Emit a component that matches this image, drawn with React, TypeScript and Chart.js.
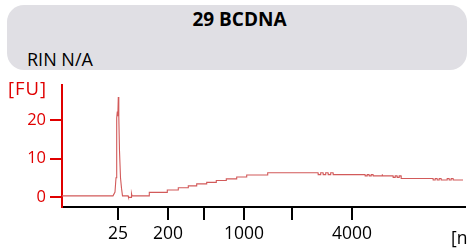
import React, { useEffect, useRef } from "react";
import { Chart, registerables } from "chart.js";

Chart.register(...registerables);

const sampleTitle = "29 BCDNA";
const rinText = "RIN N/A";
const yUnit = "[FU]";
const xUnit = "[nt]";

// migration time (s) and fluorescence (FU) of the electropherogram trace
const migrationTime = [
  19.0, 24.1, 24.3, 24.4, 24.47, 24.53, 24.58, 24.63, 24.68, 24.75, 24.85, 24.95, 25.05,
  25.6, 25.65, 25.9, 25.95, 26.0, 27.7, 27.73, 29.5, 29.53, 30.6, 30.63, 31.6, 31.63,
  32.45, 32.47, 33.45, 33.47, 34.4, 34.43, 35.4, 35.43, 36.45, 36.47, 37.45, 37.47,
  39.55, 39.57,
  44.6, 44.62, 44.85, 44.87, 45.1, 45.12, 45.35, 45.37, 45.6, 45.62, 45.85, 45.87, 46.1, 46.12,
  49.3, 49.32, 49.5, 49.52, 49.7, 49.72, 49.9, 49.92, 50.1, 50.12, 51.0, 51.02, 51.05,
  52.1, 52.12, 52.3, 52.32, 52.5, 52.52, 52.7, 52.72, 52.9, 52.92,
  56.1, 56.12, 56.3, 56.32, 56.5, 56.52, 56.7, 56.72, 56.9, 56.92, 57.5, 57.52, 57.7, 57.72,
  57.9, 57.92, 58.1, 58.12, 59.1,
];
const fluorescence = [
  0.3, 0.3, 1.3, 5.0, 20.5, 22.2, 21.0, 26.0, 21.0, 12.0, 5.0, 2.3, 0.3,
  0.3, -0.1, -0.1, 0.9, 0.3, 0.3, 1.2, 1.2, 1.8, 1.8, 2.4, 2.4, 2.9,
  2.9, 3.4, 3.4, 3.8, 3.8, 4.3, 4.3, 4.7, 4.7, 5.2, 5.2, 5.7,
  5.7, 6.3,
  6.3, 5.8, 5.8, 6.3, 6.3, 5.8, 5.8, 6.3, 6.3, 5.8, 5.8, 6.3, 6.3, 5.8,
  5.8, 5.5, 5.5, 5.8, 5.8, 5.5, 5.5, 5.8, 5.8, 5.5, 5.5, 5.9, 5.5,
  5.5, 5.1, 5.1, 5.5, 5.5, 5.1, 5.1, 5.5, 5.5, 4.8,
  4.8, 4.4, 4.4, 4.8, 4.8, 4.4, 4.4, 4.8, 4.8, 4.4, 4.4, 4.8, 4.8, 4.4,
  4.4, 4.8, 4.8, 4.4, 4.4,
];

// ladder positions (migration time) and their size labels
const ladderTime = [24.6, 29.6, 33.2, 37.2, 42.0, 48.0];
const ladderLabels = ["25", "200", "", "1000", "", "4000"];

const yTicks = [0, 10, 20];

const RED = "#e00000";
const FONT = "'Open Sans', 'Noto Sans', sans-serif";

export default function App() {
  const canvasRef = useRef<HTMLCanvasElement | null>(null);

  useEffect(() => {
    const canvas = canvasRef.current;
    if (!canvas) return;
    const points = migrationTime.map((t, i) => ({ x: t, y: fluorescence[i] }));
    const chart = new Chart(canvas, {
      type: "line",
      data: {
        datasets: [
          {
            data: points,
            borderColor: "#d25a5a",
            borderWidth: 1.1,
            pointRadius: 0,
            tension: 0,
            fill: false,
          },
        ],
      },
      options: {
        animation: false,
        responsive: false,
        maintainAspectRatio: false,
        events: [],
        layout: { padding: { top: 85, right: 2, left: 0, bottom: 0 } },
        plugins: { legend: { display: false }, tooltip: { enabled: false } },
        scales: {
          x: {
            type: "linear",
            min: 19,
            max: 59.3,
            afterFit: (scale: any) => {
              scale.height = 41;
            },
            afterBuildTicks: (scale: any) => {
              scale.ticks = ladderTime.map((v) => ({ value: v }));
            },
            border: { display: true, color: "#000", width: 2 },
            grid: {
              drawOnChartArea: false,
              drawTicks: true,
              tickLength: 13,
              color: "#000",
              lineWidth: 2,
            },
            ticks: {
              autoSkip: false,
              maxRotation: 0,
              padding: 4,
              color: "#000",
              font: { family: FONT, size: 17.5 },
              callback: (_v: any, i: number) => ladderLabels[i],
            },
          },
          y: {
            type: "linear",
            min: -2.6,
            max: 29.1,
            afterFit: (scale: any) => {
              scale.width = 62;
            },
            afterBuildTicks: (scale: any) => {
              scale.ticks = yTicks.map((v) => ({ value: v }));
            },
            border: { display: true, color: RED, width: 2 },
            grid: {
              drawOnChartArea: false,
              drawTicks: true,
              tickLength: 12,
              color: RED,
              lineWidth: 2,
            },
            ticks: {
              padding: 4,
              color: RED,
              font: { family: FONT, size: 16.5 },
            },
          },
        },
      },
    });
    return () => chart.destroy();
  }, []);

  return (
    <div
      style={{
        position: "fixed",
        left: 0,
        top: 0,
        width: 467,
        height: 248,
        overflow: "hidden",
        background: "#fff",
        fontFamily: FONT,
      }}
    >
      <div
        style={{
          position: "absolute",
          left: 7,
          top: 5,
          width: 460,
          height: 65,
          background: "rgb(224,223,228)",
          borderRadius: 17,
        }}
      />
      <div
        style={{
          position: "absolute",
          left: 0,
          top: 10,
          width: 479,
          textAlign: "center",
          fontSize: 19,
          lineHeight: "19px",
          fontWeight: 700,
          color: "#000",
          whiteSpace: "nowrap",
        }}
      >
        {sampleTitle}
      </div>
      <div
        style={{
          position: "absolute",
          left: 27,
          top: 50,
          fontSize: 18,
          lineHeight: "18px",
          color: "#000",
          whiteSpace: "nowrap",
        }}
      >
        {rinText}
      </div>
      <canvas
        ref={canvasRef}
        width={467}
        height={248}
        style={{ position: "absolute", left: 0, top: 0, width: 467, height: 248 }}
      />
      <div
        style={{
          position: "absolute",
          left: 8,
          top: 79,
          fontSize: 18.5,
          lineHeight: "18.5px",
          letterSpacing: 1,
          color: RED,
          whiteSpace: "nowrap",
        }}
      >
        {yUnit}
      </div>
      <div
        style={{
          position: "absolute",
          left: 451,
          top: 229,
          fontSize: 17.5,
          lineHeight: "17.5px",
          color: "#000",
          whiteSpace: "nowrap",
        }}
      >
        {xUnit}
      </div>
    </div>
  );
}
